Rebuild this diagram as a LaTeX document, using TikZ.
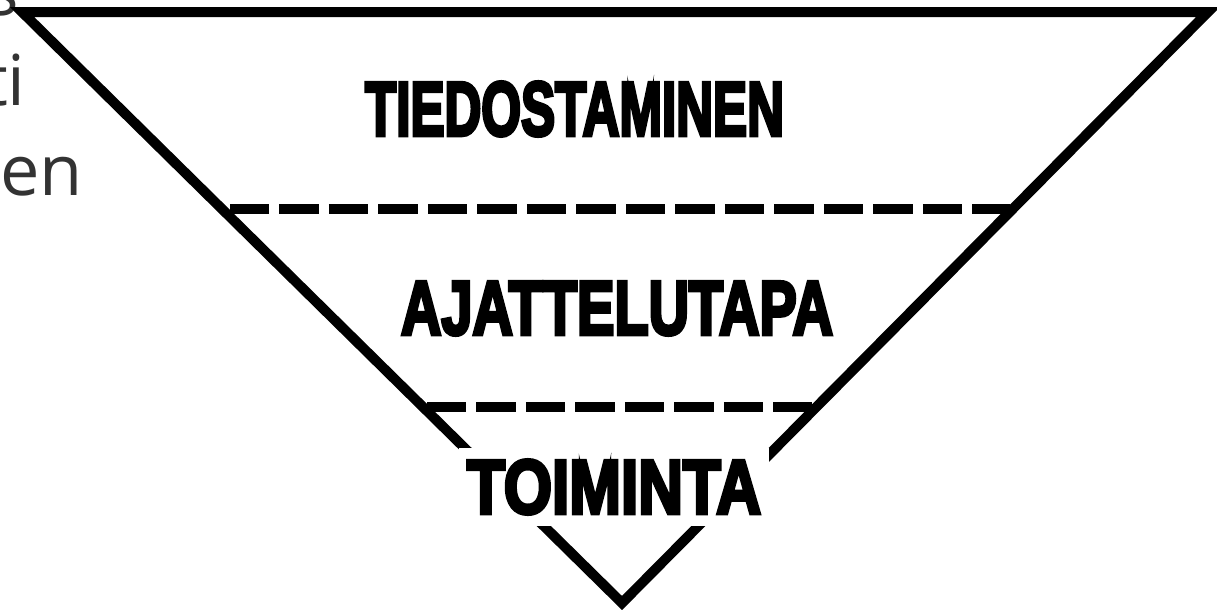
\documentclass[tikz,border=0pt]{standalone}
\usepackage{fontspec}
\setmainfont{Open Sans}
\newfontfamily\heavyfont[FakeBold=5]{Liberation Sans Bold}
\newfontfamily\sidefont{Open Sans}
\definecolor{sidegray}{HTML}{333333}
\begin{document}
\begin{tikzpicture}[x=0.02cm,y=-0.02cm,
  edge/.style={line width=0.2cm, line join=miter, black},
  layerline/.style={line width=0.2cm, black, dash pattern=on 0.79cm off 0.2cm},
  layerlabel/.style={fill=white, inner xsep=0.16cm, inner ysep=0.24cm, font=\heavyfont},
  sidetext/.style={anchor=base east, inner sep=0pt, text=sidegray, font=\sidefont\fontsize{40pt}{48pt}\selectfont}]
\useasboundingbox (0,0) rectangle (1217,609);
\clip (0,0) rectangle (1217,609);
% side texts (cut off at the left border)
\node[sidetext] (s1) at (19,15) {s};
\node[sidetext] (s2) at (26,105) {ti};
\node[sidetext] (s3) at (83,195) {nen};
% triangle
\coordinate (tl) at (22,12);
\coordinate (tr) at (1208,12);
\coordinate (bt) at (622,603);
\draw[edge] (tl) -- (tr) -- (bt) -- cycle;
% dashed layer lines
\coordinate (d1l) at (230,209);
\coordinate (d1r) at (1010,209);
\coordinate (d2l) at (427,407);
\coordinate (d2r) at (812,407);
\draw[layerline] (d1l) -- (d1r);
\draw[layerline] (d2l) -- (d2r);
% labels
\node[layerlabel] (l1) at (574.5,109) {\resizebox{8.38cm}{1.07cm}{TIEDOSTAMINEN}};
\node[layerlabel] (l2) at (617,308.5) {\resizebox{8.64cm}{1.05cm}{AJATTELUTAPA}};
\node[layerlabel] (l3) at (614,487) {\resizebox{5.88cm}{1.07cm}{TOIMINTA}};
\end{tikzpicture}
\end{document}
